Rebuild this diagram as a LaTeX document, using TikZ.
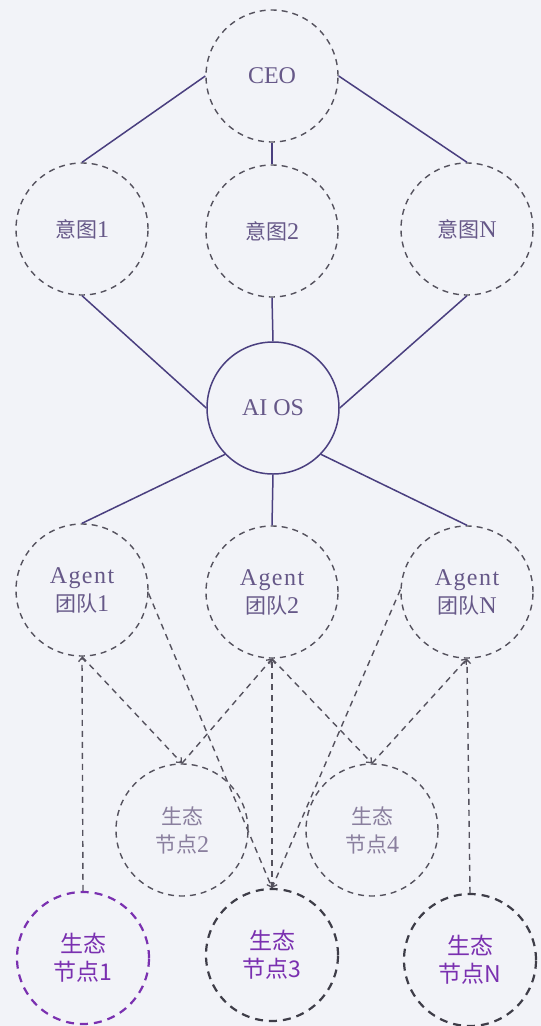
\documentclass[tikz,border=0pt]{standalone}
\usepackage{fontspec}
\setmainfont{Liberation Serif}
\newfontfamily\cjk{Noto Sans CJK SC}
\newfontfamily\spacedserif{Liberation Serif}[LetterSpace=6]
\usetikzlibrary{arrows.meta}
\definecolor{bg}{HTML}{F2F3F8}
\definecolor{solidln}{HTML}{4A3F7F}
\definecolor{dashgray}{HTML}{55525E}
\definecolor{lbl}{HTML}{665888}
\definecolor{lbllight}{HTML}{8A7F9E}
\definecolor{brightpurple}{HTML}{7A30B0}
\definecolor{darkgray}{HTML}{3E3D48}
\newcommand{\zhtxt}[1]{{\cjk\fontsize{21}{28}\selectfont #1}}
\begin{document}
\begin{tikzpicture}[x=1pt,y=-1pt,
  dnode/.style={circle, draw=dashgray, line width=1.4pt, dash pattern=on 6pt off 5pt,
    minimum size=132pt, inner sep=0pt, text=lbl, align=center,
    font=\fontsize{24}{28}\selectfont},
  snode/.style={circle, draw=solidln, line width=1.5pt,
    minimum size=132pt, inner sep=0pt, text=lbl, align=center,
    font=\fontsize{24}{28}\selectfont},
  lnode/.style={dnode, text=lbllight},
  bnode/.style={circle, line width=2.2pt, dash pattern=on 8pt off 6pt,
    minimum size=132pt, inner sep=0pt, text=brightpurple, align=center,
    font=\cjk\fontsize{23}{28}\selectfont},
  solid link/.style={draw=solidln, line width=1.5pt},
  dash link/.style={draw=dashgray, line width=1.4pt, dash pattern=on 6pt off 5pt,
    -{Straight Barb[length=4pt,width=7pt,line width=1.3pt]}}
]
\fill[bg] (0,0) rectangle (541,1026);
\useasboundingbox (0,0) rectangle (541,1026);

% top level
\node[dnode] (ceo) at (272,76) {CEO};
\node[dnode] (i1) at (82,229) {\zhtxt{意图}1};
\node[dnode] (i2) at (272,231) {\zhtxt{意图}2};
\node[dnode] (iN) at (467,229) {\zhtxt{意图}N};
\node[snode] (aios) at (273,408) {AI OS};
\node[dnode] (a1) at (82,590) {{\spacedserif Agent}\\\zhtxt{团队}1};
\node[dnode] (a2) at (272,592) {{\spacedserif Agent}\\\zhtxt{团队}2};
\node[dnode] (aN) at (467,592) {{\spacedserif Agent}\\\zhtxt{团队}N};
\node[lnode] (e2) at (182,830) {\zhtxt{生态}\\\zhtxt{节点}2};
\node[lnode] (e4) at (372,830) {\zhtxt{生态}\\\zhtxt{节点}4};
\node[bnode, draw=brightpurple] (e1) at (83,958) {生态\\节点1};
\node[bnode, draw=darkgray] (e3) at (272,955) {生态\\节点3};
\node[bnode, draw=darkgray] (eN) at (470,960) {生态\\节点N};

% solid links
\draw[solid link] (ceo.west) -- (i1.north);
\draw[solid link] (ceo.south) -- (i2.north);
\draw[solid link] (ceo.east) -- (iN.north);
\draw[solid link] (i1.south) -- (aios.180);
\draw[solid link] (i2.south) -- (aios.north);
\draw[solid link] (iN.south) -- (aios.0);
\draw[solid link] (aios.224) -- (a1.north);
\draw[solid link] (aios.south) -- (a2.north);
\draw[solid link] (aios.316) -- (aN.north);

% dashed arrows
\draw[dash link] (e1.north) -- (a1.south);
\draw[dash link] (a1.south) -- (e2.north);
\draw[dash link] (e2.north) -- (a2.south);
\draw[dash link] (a2.south) -- (e4.north);
\draw[dash link] (e4.north) -- (aN.south);
\draw[dash link] (eN.north) -- (aN.south);
\draw[dash link] (e3.north) -- (a2.south);
\draw[dash link] (a1.357) -- (e3.north);
\draw[dash link] (aN.178) -- (e3.north);
\end{tikzpicture}
\end{document}
